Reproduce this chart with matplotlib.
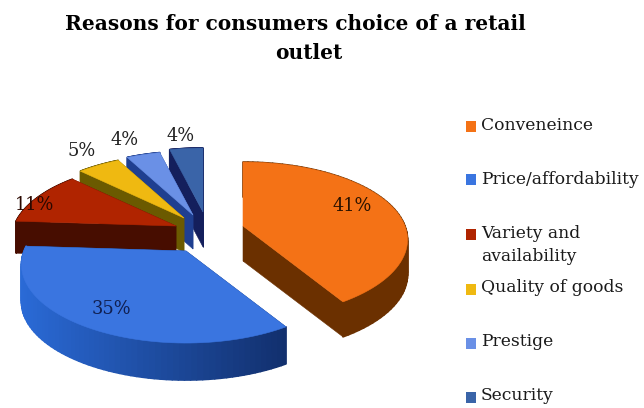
import numpy as np
import matplotlib
matplotlib.use("Agg")
import matplotlib.pyplot as plt
from matplotlib.collections import PolyCollection
from matplotlib.colors import to_rgb
from matplotlib.patches import Polygon, Rectangle

# Survey shares, in percent
categories = ["Conveneince", "Price/affordability", "Variety and\navailability",
              "Quality of goods", "Prestige", "Security"]
shares = [41, 35, 11, 5, 4, 4]

# Colours per slice: top surface, cut faces, outer rim (left and right end of the rim)
top_colors = ["#F47216", "#3A75E0", "#B02400", "#EFB911", "#6A90E6", "#3A64A8"]
face_colors = ["#6B3000", "#12306E", "#470D00", "#6B5A00", "#1F3F90", "#141F5C"]
rim_left = ["#6B3000", "#2A6AD6", "#470D00", "#6B5A00", "#1F3F90", "#141F5C"]
rim_right = ["#6B3000", "#12306E", "#470D00", "#6B5A00", "#1F3F90", "#141F5C"]
label_colors = ["#2A1200", "#101F50", "#2A0800", "#222222", "#222222", "#222222"]

# Layout of the exploded slices, in figure pixels
apex = [(243, 226), (186, 251), (176, 226), (184, 218), (193, 215), (203, 212)]
depth = [35, 37, 32, 34, 34, 35]
label_xy = [(352, 206), (111, 309), (35, 205), (82, 151), (125, 140), (181, 136)]
legend_y = [126, 179, 234, 289, 343, 397]
legend_text_y = [125, 179, 245, 288, 342, 396]
RX, RY, PERSPECTIVE = 162, 78, 0.18

SERIF = "DejaVu Serif"

fig = plt.figure(figsize=(6.44, 4.08), dpi=100)
ax = fig.add_axes([0, 0, 1, 1])
ax.set_xlim(0, 644)
ax.set_ylim(408, 0)
ax.axis("off")


def rim_points(center, start, stop, n=70):
    """Points on the tilted circle between two clockwise angles from twelve o'clock."""
    theta = np.radians(np.linspace(start, stop, n))
    u, v = np.sin(theta), -np.cos(theta)
    scale = 1 + PERSPECTIVE * v
    return np.column_stack((center[0] + RX * u * scale, center[1] + RY * v * scale))


edges = np.concatenate(([0], np.cumsum(shares))) * 3.6
drop = np.array([0, 1])

# Far slices go first so the nearer ones cover them
for i in range(len(shares) - 1, -1, -1):
    c = np.array(apex[i], dtype=float)
    arc = rim_points(c, edges[i], edges[i + 1])
    d = drop * depth[i]

    # Cut faces running from the apex to each end of the arc
    for end in (arc[0], arc[-1]):
        face = [c, end, end + d, c + d]
        ax.add_patch(Polygon(face, closed=True, fc=face_colors[i], ec=face_colors[i], lw=0.4, zorder=i * -3))

    # Outer rim, shaded strip by strip from left to right
    quads = [[arc[k], arc[k + 1], arc[k + 1] + d, arc[k] + d] for k in range(len(arc) - 1)]
    left, right = np.array(to_rgb(rim_left[i])), np.array(to_rgb(rim_right[i]))
    xs = arc[:, 0]
    span = max(xs.max() - xs.min(), 1)
    shade = [left + (right - left) * ((xs[k] - xs.min()) / span) for k in range(len(arc) - 1)]
    ax.add_collection(PolyCollection(quads, facecolors=shade, edgecolors=shade, linewidths=1.2, zorder=i * -3 + 0.5))

    # Top surface
    ax.add_patch(Polygon(np.vstack((c, arc)), closed=True, fc=top_colors[i], ec=top_colors[i], lw=0.4, zorder=i * -3 + 1))

# Percentage labels sit above every slice
for share, xy, col in zip(shares, label_xy, label_colors):
    ax.text(xy[0], xy[1], f"{share}%", ha="center", va="center", family=SERIF, fontsize=12.8, color=col, zorder=5)

# Legend column
for name, col, y_box, y_txt in zip(categories, top_colors, legend_y, legend_text_y):
    ax.add_patch(Rectangle((466, y_box - 5.5), 10.5, 11, fc=col, ec="none"))
    ax.text(481, y_txt, name, ha="left", va="center", family=SERIF, fontsize=12.3, color="#1a1a1a", linespacing=1.5)

# Two-line title
ax.text(295, 24, "Reasons for consumers choice of a retail", ha="center", va="center",
        family=SERIF, fontweight="bold", fontsize=14.5, color="black")
ax.text(309, 53, "outlet", ha="center", va="center", family=SERIF, fontweight="bold", fontsize=14.5, color="black")

fig.savefig("out.png", dpi=100, facecolor="white")
